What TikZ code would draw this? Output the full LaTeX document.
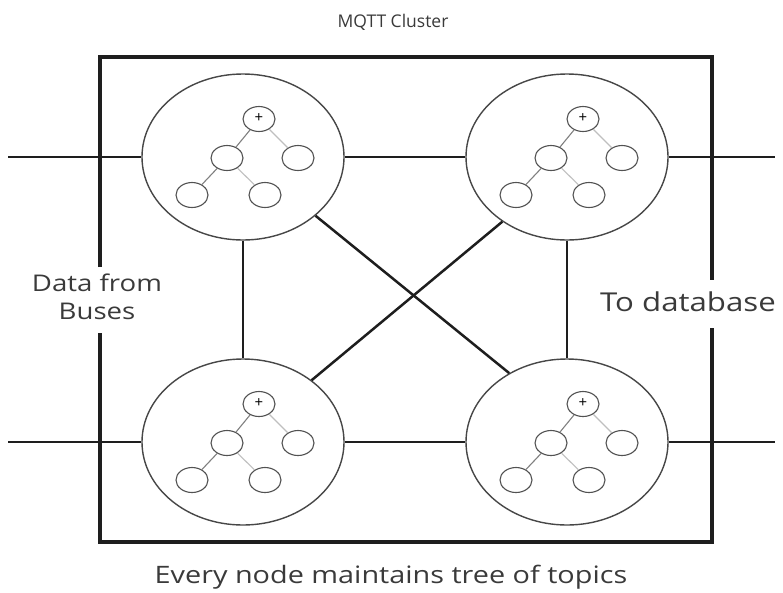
\documentclass[tikz,border=0pt]{standalone}
\usepackage{fontspec}
\usepackage{graphicx}
\setmainfont{Open Sans}
\usetikzlibrary{shapes.geometric}

\definecolor{ink}{HTML}{1E1E1E}
\definecolor{txt}{HTML}{3A3A3A}

% text is set slightly wide
\newcommand{\wide}[1]{\scalebox{1.2}[1]{#1}}

\tikzset{
  frame/.style={line width=3.8pt, draw=ink},
  wire/.style={line width=2.5pt, draw=ink},
  broker/.style={ellipse, draw=black!72, line width=1.4pt,
    minimum width=202pt, minimum height=166pt, inner sep=0pt, fill=white},
  leaf/.style={ellipse, draw=black!68, line width=1.1pt,
    minimum width=32pt, minimum height=25pt, inner sep=0pt,
    font=\fontsize{15}{15}\selectfont},
  edgedark/.style={line width=1.1pt, draw=black!50},
  edgelight/.style={line width=1.1pt, draw=black!25},
  label/.style={text=txt, align=center, inner sep=0pt},
  topictree/.pic={
    \node[leaf] (-r) at (16,-38) {\raisebox{1pt}{+}};
    \node[leaf] (-a) at (-16,1) {};
    \node[leaf] (-b) at (55,1) {};
    \node[leaf] (-c) at (-51,38) {};
    \node[leaf] (-d) at (22,38) {};
    \draw[edgedark] (-r) -- (-a);
    \draw[edgelight] (-r) -- (-b);
    \draw[edgedark] (-a) -- (-c);
    \draw[edgelight] (-a) -- (-d);
  }
}

\begin{document}
\begin{tikzpicture}[x=1pt, y=-1pt]
  \useasboundingbox (0,0) rectangle (783,592);

  % cluster boundary, open where the side labels sit
  \draw[frame] (100,267) -- (100,57) -- (712,57) -- (712,280);
  \draw[frame] (712,328) -- (712,542) -- (100,542) -- (100,333);

  % the four broker nodes
  \node[broker] (tl) at (243,157) {};
  \node[broker] (tr) at (567,157) {};
  \node[broker] (bl) at (243,442) {};
  \node[broker] (br) at (567,442) {};

  % free ends of the input and output lines
  \coordinate (inT)  at (8,157);
  \coordinate (inB)  at (8,442);
  \coordinate (outT) at (775,157);
  \coordinate (outB) at (775,442);

  \draw[wire] (inT) -- (tl.west);
  \draw[wire] (inB) -- (bl.west);
  \draw[wire] (tr.east) -- (outT);
  \draw[wire] (br.east) -- (outB);

  \draw[wire] (tl.east) -- (tr.west);
  \draw[wire] (bl.east) -- (br.west);
  \draw[wire] (tl.south) -- (bl.north);
  \draw[wire] (tr.south) -- (br.north);
  \draw[wire] (tl.-39) -- (br.130.5);
  \draw[wire] (tr.225.4) -- (bl.42.9);

  % topic tree held by every broker
  \pic (tlt) at (tl) {topictree};
  \pic (trt) at (tr) {topictree};
  \pic (blt) at (bl) {topictree};
  \pic (brt) at (br) {topictree};

  % labels
  \node[label, font=\fontsize{17.5}{20}\selectfont] (title) at (393,22) {MQTT Cluster};
  \node[label, font=\fontsize{24}{28}\selectfont] (caption) at (391,577) {\wide{Every node maintains tree of topics}};
  \node[label, font=\fontsize{23}{28}\selectfont] (src) at (97,297) {\wide{Data from}\\\wide{Buses}};
  \node[label, font=\fontsize{26}{28}\selectfont] (dst) at (688,302) {\wide{To database}};
\end{tikzpicture}
\end{document}
